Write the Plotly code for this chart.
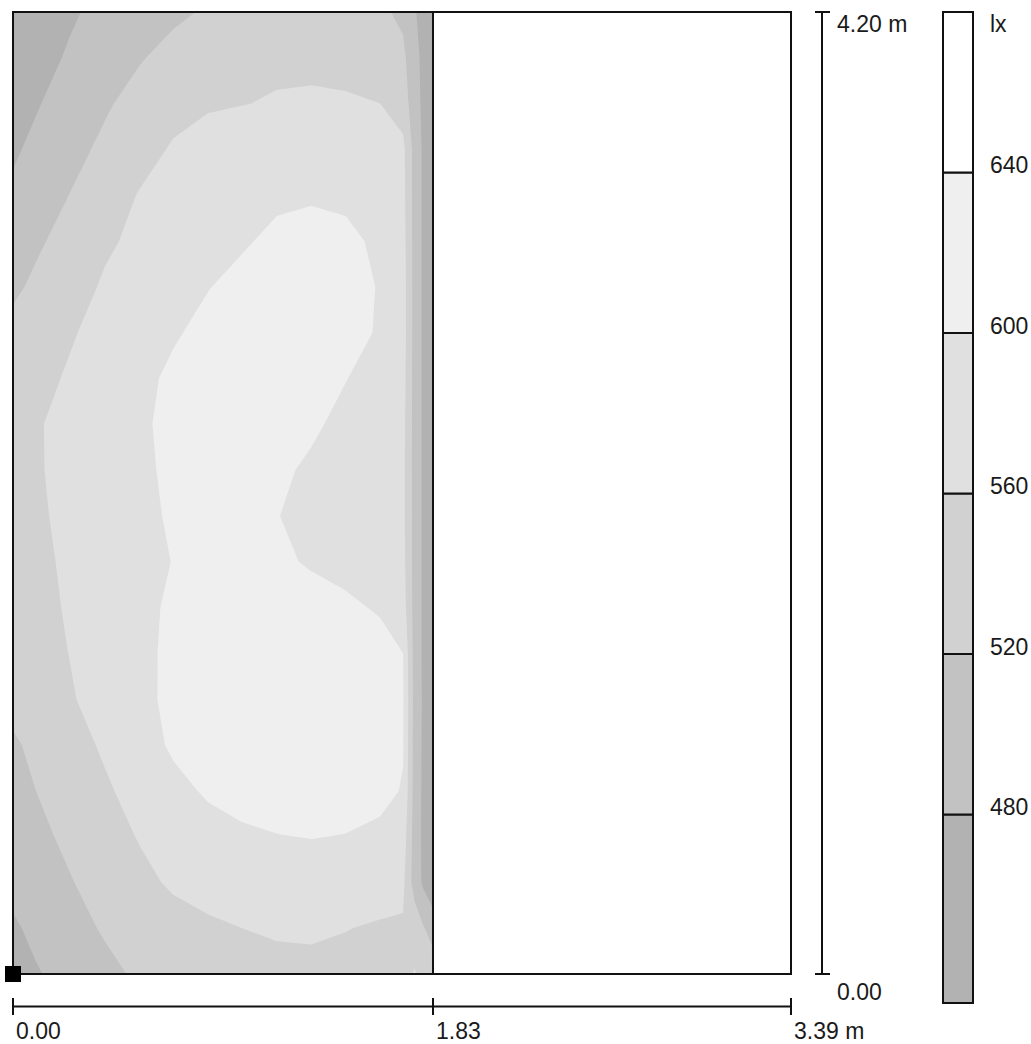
import plotly.graph_objects as go

# ---------------- data ----------------
# calculation grid (m) of the illuminated half of the room
X_M = [0.00, 0.10, 0.25, 0.40, 0.55, 0.70, 0.85, 1.00, 1.15, 1.30, 1.45, 1.60, 1.70, 1.75, 1.79, 1.83]
Y_M = [0.0, 0.2, 0.4, 0.6, 0.8, 1.0, 1.2, 1.4, 1.6, 1.8, 2.0, 2.2, 2.4, 2.6, 2.8, 3.0,
       3.2, 3.4, 3.6, 3.8, 4.0, 4.2]

# illuminance values (lx), one row per Y_M value
LUX_Y00 = [466, 477, 493, 510, 526, 535, 542, 547, 550, 551, 549, 545, 552, 562, 550, 540]
LUX_Y02 = [475, 488, 506, 524, 536, 547, 554, 560, 564, 565, 561, 556, 556, 545, 522, 505]
LUX_Y04 = [490, 502, 518, 535, 551, 565, 574, 580, 583, 584, 582, 577, 568, 502, 472, 448]
LUX_Y06 = [499, 511, 528, 545, 562, 577, 588, 595, 599, 601, 599, 593, 582, 502, 471, 447]
LUX_Y08 = [507, 520, 537, 555, 573, 591, 604, 611, 615, 616, 614, 609, 598, 504, 471, 447]
LUX_Y10 = [515, 528, 546, 565, 585, 605, 613, 619, 622, 623, 622, 616, 602, 505, 472, 447]
LUX_Y12 = [531, 541, 557, 574, 591, 608, 616, 622, 625, 626, 624, 618, 603, 507, 473, 447]
LUX_Y14 = [535, 545, 561, 577, 592, 607, 615, 621, 624, 624, 621, 614, 600, 505, 472, 447]
LUX_Y16 = [538, 549, 564, 578, 592, 605, 613, 618, 619, 615, 607, 596, 578, 505, 472, 447]
LUX_Y18 = [541, 552, 566, 578, 589, 601, 610, 613, 607, 596, 588, 582, 572, 505, 472, 447]
LUX_Y20 = [544, 555, 568, 580, 592, 604, 610, 609, 601, 590, 583, 578, 570, 505, 472, 447]
LUX_Y22 = [546, 557, 569, 582, 594, 606, 613, 614, 607, 594, 584, 578, 570, 505, 472, 447]
LUX_Y24 = [546, 557, 570, 583, 595, 608, 616, 620, 618, 606, 590, 580, 572, 505, 472, 447]
LUX_Y26 = [539, 550, 564, 578, 592, 606, 615, 621, 623, 618, 601, 585, 575, 505, 472, 447]
LUX_Y28 = [531, 542, 557, 571, 584, 597, 608, 615, 620, 621, 614, 596, 578, 505, 472, 447]
LUX_Y30 = [513, 527, 546, 564, 575, 588, 599, 608, 614, 617, 612, 598, 578, 505, 472, 447]
LUX_Y32 = [500, 514, 534, 555, 567, 577, 587, 597, 606, 610, 606, 595, 575, 505, 472, 447]
LUX_Y34 = [487, 501, 521, 541, 562, 575, 585, 591, 595, 597, 595, 588, 572, 505, 472, 447]
LUX_Y36 = [475, 488, 508, 528, 546, 564, 575, 582, 587, 590, 588, 582, 570, 505, 472, 447]
LUX_Y38 = [465, 477, 496, 515, 534, 548, 556, 559, 563, 564, 563, 560, 540, 498, 470, 446]
LUX_Y40 = [457, 468, 484, 501, 517, 532, 542, 549, 553, 554, 552, 545, 528, 494, 468, 445]
LUX_Y42 = [455, 465, 476, 489, 500, 513, 524, 532, 538, 540, 538, 527, 512, 484, 463, 443]

LUX = [LUX_Y00, LUX_Y02, LUX_Y04, LUX_Y06, LUX_Y08, LUX_Y10, LUX_Y12, LUX_Y14, LUX_Y16,
       LUX_Y18, LUX_Y20, LUX_Y22, LUX_Y24, LUX_Y26, LUX_Y28, LUX_Y30, LUX_Y32, LUX_Y34,
       LUX_Y36, LUX_Y38, LUX_Y40, LUX_Y42]

LEVELS = [480, 520, 560, 600, 640]
BAND_COLORS = ["#b2b2b2", "#c2c2c2", "#d1d1d1", "#e0e0e0", "#efefef", "#ffffff"]
BAND_EDGES = [433, 480, 520, 560, 600, 640, 680]   # colour-bar band limits (lx)
UNIT = "lx"

ROOM_W = 3.39
ROOM_D = 4.20
SPLIT_X = 1.83
X_DIMS = [0.00, 1.83, 3.39]
X_DIM_TEXT = ["0.00", "1.83", "3.39 m"]
Y_DIMS = [0.00, 4.20]
Y_DIM_TEXT = ["0.00", "4.20 m"]

# ---------------- layout geometry (pixels) ----------------
W, H = 1031, 1044
X0_PX, SX = 13.0, 229.5      # x = 0 at pixel 13, px per metre
Y0_PX, SY = 974.0, 229.05    # y = 0 at pixel 974, px per metre


def dx(px):
    return (px - X0_PX) / SX


def dy(py):
    return (Y0_PX - py) / SY


FONT = dict(family="Liberation Sans, Arial, sans-serif", size=23, color="#1a1a1a")
INK = "#111111"

# stepped colour scale: band i sits at position i/5
n = len(BAND_COLORS)
cscale = []
for i, c in enumerate(BAND_COLORS):
    lo = max(0.0, (i - 0.5) / (n - 1))
    hi = min(1.0, (i + 0.5) / (n - 1))
    cscale.append([lo, c])
    cscale.append([hi, c])

step = LEVELS[1] - LEVELS[0]

fig = go.Figure()

fig.add_trace(go.Contour(
    x=X_M, y=Y_M, z=LUX,
    autocontour=False,
    contours=dict(start=LEVELS[0], end=LEVELS[-1], size=step, coloring="fill", showlines=False),
    colorscale=cscale,
    zmin=LEVELS[0] - step / 2, zmax=LEVELS[-1] + step / 2,
    line=dict(width=0, smoothing=0),
    showscale=False,
    hoverinfo="skip",
    xaxis="x", yaxis="y",
))

# colour bar built from band data
fig.add_trace(go.Bar(
    x=[0] * (len(BAND_EDGES) - 1),
    y=[BAND_EDGES[i + 1] - BAND_EDGES[i] for i in range(len(BAND_EDGES) - 1)],
    base=BAND_EDGES[:-1],
    width=1.0,
    marker=dict(color=BAND_COLORS, line=dict(color=INK, width=2)),
    showlegend=False, hoverinfo="skip",
    xaxis="x2", yaxis="y2",
))

shapes = []
# room frame and split line
shapes.append(dict(type="rect", xref="x", yref="y", x0=0, y0=0, x1=ROOM_W, y1=ROOM_D,
                   line=dict(color=INK, width=2), fillcolor="rgba(0,0,0,0)", layer="above"))
shapes.append(dict(type="line", xref="x", yref="y", x0=SPLIT_X, y0=0, x1=SPLIT_X, y1=ROOM_D,
                   line=dict(color=INK, width=2), layer="above"))
# origin marker
shapes.append(dict(type="rect", xref="x", yref="y", x0=dx(X0_PX - 8), x1=dx(X0_PX + 8),
                   y0=dy(Y0_PX + 8), y1=dy(Y0_PX - 8), line=dict(width=0), fillcolor="black",
                   layer="above"))
# bottom dimension line
dim_y = dy(1006.5)
shapes.append(dict(type="line", xref="x", yref="y", x0=X_DIMS[0], x1=X_DIMS[-1], y0=dim_y, y1=dim_y,
                   line=dict(color=INK, width=2)))
for xv in X_DIMS:
    shapes.append(dict(type="line", xref="x", yref="y", x0=xv, x1=xv, y0=dy(998), y1=dy(1015),
                       line=dict(color=INK, width=2)))
# right dimension line
dim_x = dx(822)
shapes.append(dict(type="line", xref="x", yref="y", x0=dim_x, x1=dim_x, y0=Y_DIMS[0], y1=Y_DIMS[-1],
                   line=dict(color=INK, width=2)))
for yv in Y_DIMS:
    shapes.append(dict(type="line", xref="x", yref="y", x0=dx(815), x1=dx(830), y0=yv, y1=yv,
                       line=dict(color=INK, width=2)))

annotations = []
for xv, t in zip(X_DIMS, X_DIM_TEXT):
    annotations.append(dict(x=xv, y=dy(1031), xref="x", yref="y", text=t, showarrow=False,
                            xanchor="left", yanchor="middle", xshift=1, font=FONT))
for yv, t in zip(Y_DIMS, Y_DIM_TEXT):
    annotations.append(dict(x=dx(835), y=yv, xref="x", yref="y", text=t, showarrow=False,
                            xanchor="left", yanchor="middle",
                            yshift=-12 if yv > 0 else -18, font=FONT))
for lv in LEVELS:
    annotations.append(dict(x=988 / W, y=lv, xref="paper", yref="y2", text=str(lv), showarrow=False,
                            xanchor="left", yanchor="middle", yshift=7, font=FONT))
annotations.append(dict(x=988 / W, y=BAND_EDGES[-1], xref="paper", yref="y2", text=UNIT,
                        showarrow=False, xanchor="left", yanchor="middle", yshift=-12, font=FONT))

# colour bar axes geometry
CB_L, CB_R, CB_T, CB_B = 943.0, 973.0, 12.0, 1003.0
cb_pp = (CB_B - CB_T) / (BAND_EDGES[-1] - BAND_EDGES[0])
pad_lx = 2 / cb_pp
cb_rng = [BAND_EDGES[0] - pad_lx, BAND_EDGES[-1] + pad_lx]
cb_dom = [1 - (CB_B + 2) / H, 1 - (CB_T - 2) / H]
bw = CB_R - CB_L
cbx_rng = [-0.5 - 2 / bw, 0.5 + 2 / bw]
cbx_dom = [(CB_L - 2) / W, (CB_R + 2) / W]

fig.update_layout(
    width=W, height=H,
    margin=dict(l=0, r=0, t=0, b=0, pad=0),
    paper_bgcolor="white", plot_bgcolor="white",
    showlegend=False,
    barmode="overlay",
    xaxis=dict(domain=[0, 1], range=[dx(0), dx(W)], visible=False, fixedrange=True),
    yaxis=dict(domain=[0, 1], range=[dy(H), dy(0)], visible=False, fixedrange=True),
    xaxis2=dict(domain=cbx_dom, range=cbx_rng, visible=False, anchor="y2", fixedrange=True),
    yaxis2=dict(domain=cb_dom, range=cb_rng, visible=False, anchor="x2", fixedrange=True),
    shapes=shapes,
    annotations=annotations,
)

fig.write_html("out.html", config={"displayModeBar": False},
               post_script="document.body.style.margin='0';document.body.style.overflow='hidden';")
